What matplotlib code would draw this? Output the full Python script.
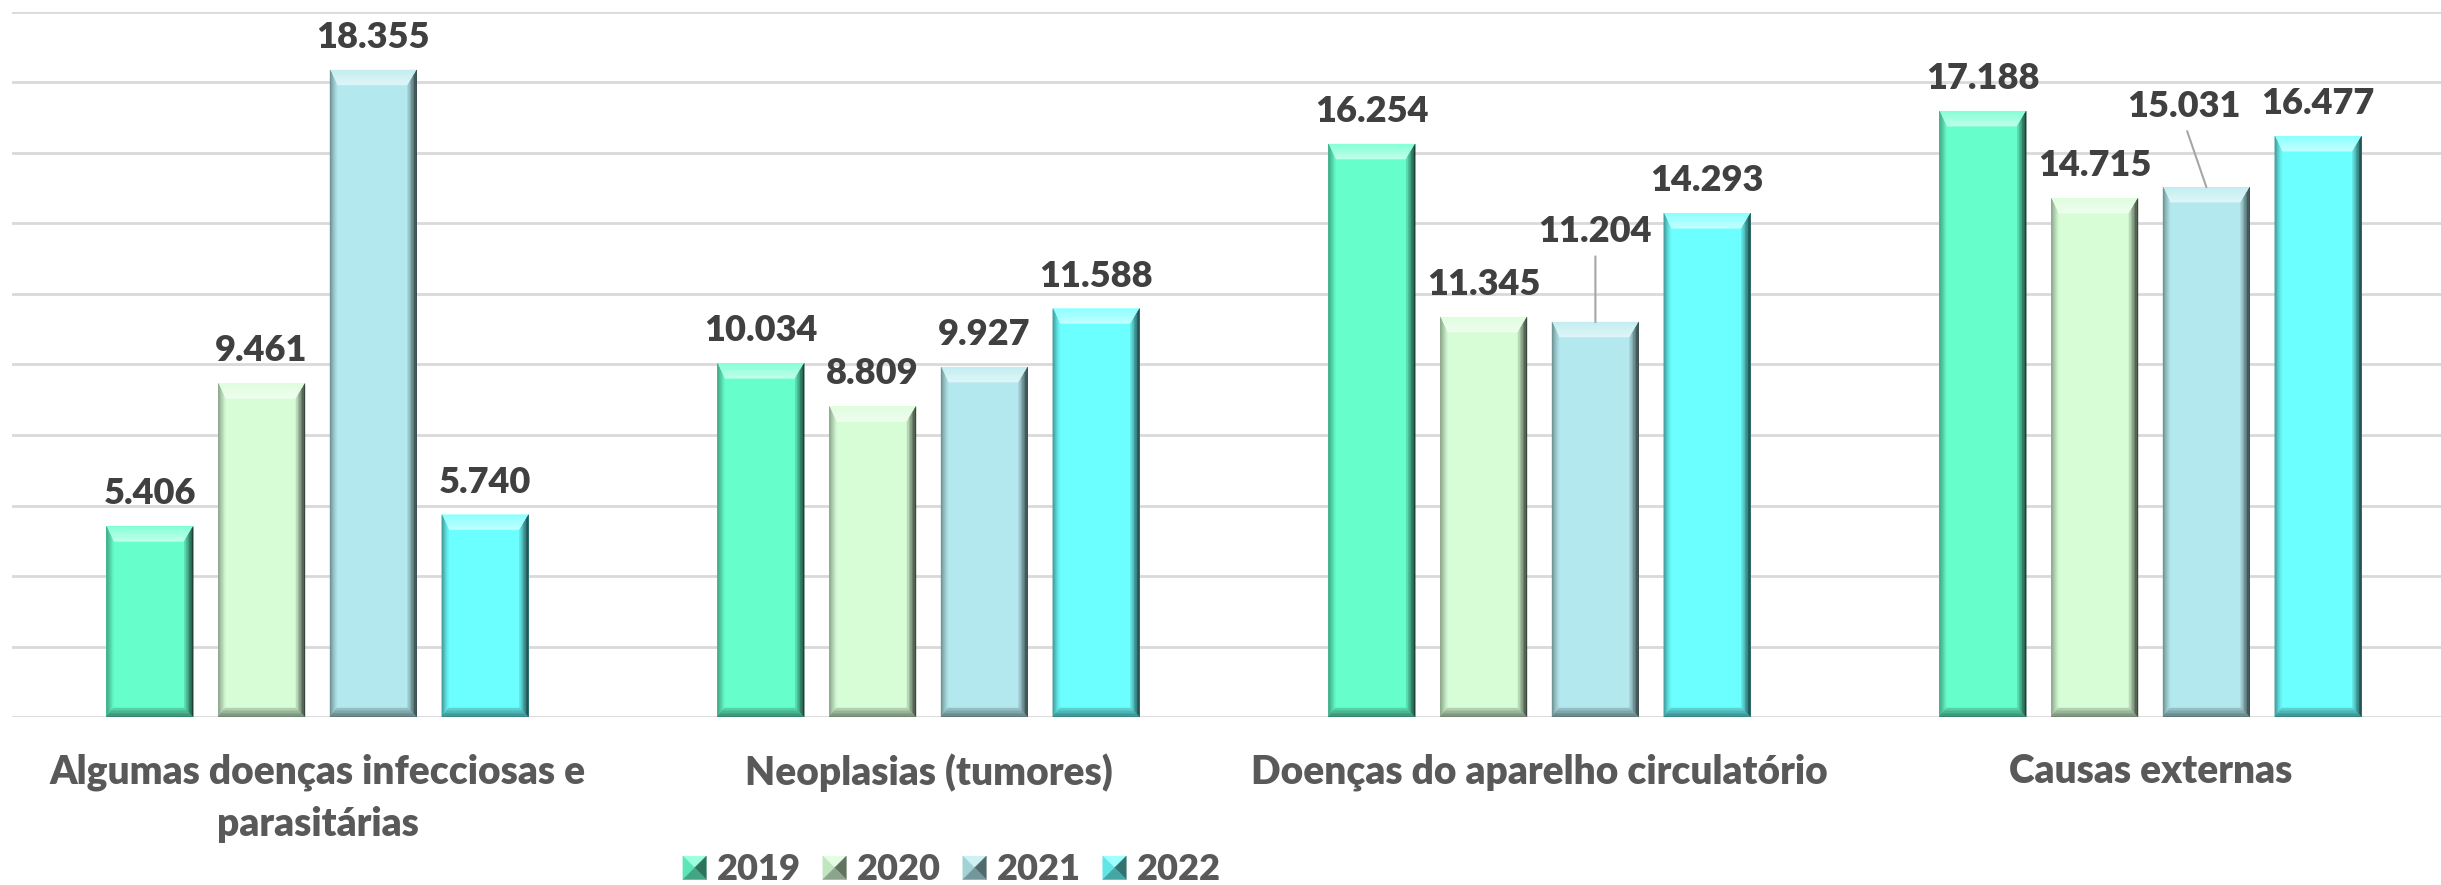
import numpy as np
import matplotlib
matplotlib.use("Agg")
import matplotlib.pyplot as plt
from matplotlib.patches import Polygon, Rectangle
from matplotlib.legend_handler import HandlerBase
from matplotlib.colors import to_rgb

categories = ["Algumas doenças infecciosas e\nparasitárias", "Neoplasias (tumores)",
              "Doenças do aparelho circulatório", "Causas externas"]
years = ["2019", "2020", "2021", "2022"]
v2019 = [5406, 10034, 16254, 17188]
v2020 = [9461, 8809, 11345, 14715]
v2021 = [18355, 9927, 11204, 15031]
v2022 = [5740, 11588, 14293, 16477]
series = [v2019, v2020, v2021, v2022]
colors = ["#66FFCC", "#D6FDD6", "#B3E9EE", "#6CFFFF"]

# labels moved up with a leader line: (series, category) -> offset in pixels
moved = {(2, 2): (0, 80), (2, 3): (-22, 70)}

W, H, DPI = 2441, 885, 100
FONT = "Lato"
WEIGHT = "heavy"
VAL_COLOR = "#404040"
TXT_COLOR = "#595959"


def mix(c, other, t):
    c = np.array(to_rgb(c))
    o = np.array(to_rgb(other))
    return tuple(c + (o - c) * t)


def facet(ax, p0, p1, q0, q1, c_out, c_in, n=6):
    """draw a bevel facet from outer edge p0-p1 to inner edge q0-q1 as bands"""
    p0, p1, q0, q1 = map(np.array, (p0, p1, q0, q1))
    for k in range(n):
        a, b = k / n, (k + 1) / n
        pts = [p0 + (q0 - p0) * a, p1 + (q1 - p1) * a,
               p1 + (q1 - p1) * b, p0 + (q0 - p0) * b]
        col = tuple(np.array(c_out) + (np.array(c_in) - np.array(c_out)) * (k + 0.5) / n)
        ax.add_patch(Polygon(pts, closed=True, facecolor=col, edgecolor=col,
                             lw=0.3, zorder=3))


def bevel(ax, rect, color, px_x, px_y):
    x0 = rect.get_x()
    x1 = x0 + rect.get_width()
    y0 = 0
    y1 = rect.get_height()
    lt, rt, tp, bt = 7 * px_x, 9 * px_x, 15 * px_y, 9 * px_y
    # top
    facet(ax, (x0, y1), (x1, y1), (x0 + lt, y1 - tp), (x1 - rt, y1 - tp),
          mix(color, "white", 0.2), mix(color, "white", 0.6))
    # left
    facet(ax, (x0, y1), (x0, y0), (x0 + lt, y1 - tp), (x0 + lt, y0 + bt),
          mix(color, "black", 0.4), mix(color, "black", 0.02))
    # right
    facet(ax, (x1, y1), (x1, y0), (x1 - rt, y1 - tp), (x1 - rt, y0 + bt),
          mix(color, "black", 0.8), mix(color, "black", 0.08))
    # bottom
    facet(ax, (x0, y0), (x1, y0), (x0 + lt, y0 + bt), (x1 - rt, y0 + bt),
          mix(color, "black", 0.5), mix(color, "black", 0.15))


class BevelHandler(HandlerBase):
    def create_artists(self, legend, orig_handle, xdescent, ydescent,
                       width, height, fontsize, trans):
        c = orig_handle.get_facecolor()
        s = min(width, height)
        x0 = -xdescent + (width - s) / 2
        y0 = -ydescent + (height - s) / 2
        cx, cy = x0 + s / 2, y0 + s / 2
        tl, tr, br, bl = (x0, y0 + s), (x0 + s, y0 + s), (x0 + s, y0), (x0, y0)
        parts = [([tl, tr, (cx, cy)], mix(c, "white", 0.35)),
                 ([tl, bl, (cx, cy)], mix(c, "black", 0.1)),
                 ([tr, br, (cx, cy)], mix(c, "black", 0.55)),
                 ([bl, br, (cx, cy)], mix(c, "black", 0.35))]
        arts = []
        for pts, col in parts:
            p = Polygon(pts, closed=True, facecolor=col, edgecolor=col, lw=0.3,
                        transform=trans)
            arts.append(p)
        return arts


fig = plt.figure(figsize=(W / DPI, H / DPI), dpi=DPI)
ax = fig.add_axes([12 / W, (H - 717) / H, (W - 12) / W, (717 - 12) / H])
ax.set_xlim(-0.5, (W - 317.5) / 611)
ax.set_ylim(0, 20000)

px_x = (ax.get_xlim()[1] - ax.get_xlim()[0]) / (W - 12)
px_y = 20000 / (717 - 12)

x = np.arange(len(categories))
pitch = 0.183
bw = 0.142

for j, vals in enumerate(series):
    bars = ax.bar(x + (j - 1.5) * pitch, vals, bw, color=colors[j], zorder=2,
                  label=years[j])
    for i, rect in enumerate(bars):
        bevel(ax, rect, colors[j], px_x, px_y)
        v = vals[i]
        txt = f"{v:,}".replace(",", ".")
        cx = rect.get_x() + rect.get_width() / 2
        dx, dy = moved.get((j, i), (0, 22))
        kw = {}
        if (j, i) in moved:
            kw["arrowprops"] = dict(arrowstyle="-", color="#A6A6A6", lw=1.5,
                                    shrinkA=4, shrinkB=0, relpos=(0.5, 0))
        ax.annotate(txt, xy=(cx, v), xytext=(dx, dy), textcoords="offset pixels",
                    ha="center", va="baseline", fontsize=26, fontweight=WEIGHT,
                    family=FONT, color=VAL_COLOR, zorder=5, **kw)

ax.set_yticks(np.arange(0, 20001, 2000))
ax.set_yticklabels([])
ax.yaxis.grid(True, color="#D9D9D9", lw=2)
ax.set_axisbelow(True)
ax.tick_params(length=0)
for s in ax.spines.values():
    s.set_visible(False)

ax.set_xticks(x)
ax.set_xticklabels(categories, fontsize=28, fontweight=WEIGHT, family=FONT,
                   color=TXT_COLOR, linespacing=1.5)
ax.tick_params(axis="x", pad=26)

handles = [Rectangle((0, 0), 1, 1, facecolor=c) for c in colors]
leg = fig.legend(handles, years, loc="center", bbox_to_anchor=(952 / W, 1 - 870 / H),
                 ncol=4, frameon=False, handler_map={Rectangle: BevelHandler()},
                 handlelength=0.65, handleheight=0.65, handletextpad=0.3,
                 columnspacing=0.6, prop=dict(family=FONT, weight=WEIGHT, size=26),
                 labelcolor=TXT_COLOR)

fig.savefig("out.png", dpi=DPI)
